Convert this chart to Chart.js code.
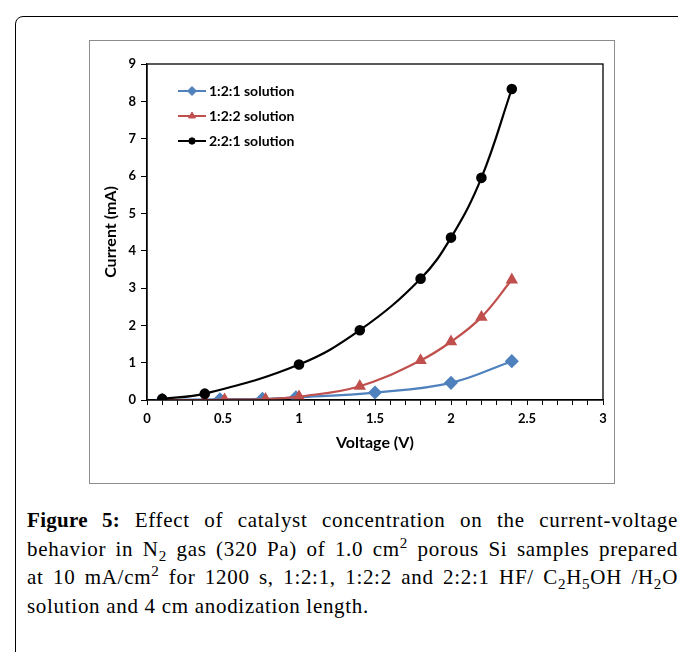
<!DOCTYPE html>
<html>
<head>
<meta charset="utf-8">
<script src="https://cdn.jsdelivr.net/npm/chart.js@4/dist/chart.umd.min.js"></script>
<style>
  html, body { margin: 0; padding: 0; background: #fff; }
  body { width: 678px; height: 652px; position: relative; overflow: hidden; }
  #outer { position: absolute; left: 15px; top: 16px; width: 720px; height: 720px;
           border: 1.5px solid #000; border-radius: 8px; }
  #box { position: absolute; left: 89px; top: 40px; width: 526px; height: 444px;
         border: 1px solid #8c8c8c; box-sizing: border-box; background: #fff; }
  #box canvas { position: absolute; left: 0; top: 0; }
  #caption { position: absolute; left: 27px; top: 506px; width: 651px;
             font-family: "Liberation Serif", "DejaVu Serif", serif; font-size: 21px;
             letter-spacing: 0.7px; color: #000; }
  #caption .ln { height: 28.5px; line-height: 28.5px; text-align: justify; text-align-last: justify; white-space: nowrap; }
  #caption .ln.last { text-align-last: left; }
  #caption b { font-weight: bold; letter-spacing: 0.3px; }
  sub, sup { font-size: 0.72em; line-height: 0; }
</style>
</head>
<body>
<div id="outer"></div>
<div id="box"><canvas id="c" width="526" height="444"></canvas></div>
<div id="caption">
  <div class="ln"><b>Figure 5:</b> Effect of catalyst concentration on the current-voltage</div>
  <div class="ln">behavior in N<sub>2</sub> gas (320 Pa) of 1.0 cm<sup>2</sup> porous Si samples prepared</div>
  <div class="ln">at 10 mA/cm<sup>2</sup> for 1200 s, 1:2:1, 1:2:2 and 2:2:1 HF/ C<sub>2</sub>H<sub>5</sub>OH /H<sub>2</sub>O</div>
  <div class="ln last">solution and 4 cm anodization length.</div>
</div>
<script>
// ---- data ----
const seriesNames = ["1:2:1 solution", "1:2:2 solution", "2:2:1 solution"];

const voltage121 = [0.1, 0.48, 0.76, 0.98, 1.5, 2.0, 2.4];
const current121 = [0.0, 0.02, 0.03, 0.07, 0.2, 0.46, 1.04];

const voltage122 = [0.1, 0.38, 0.51, 0.78, 1.0, 1.4, 1.8, 2.0, 2.2, 2.4];
const current122 = [0.0, 0.0, 0.01, 0.02, 0.09, 0.37, 1.06, 1.56, 2.22, 3.22];

const voltage221 = [0.1, 0.38, 1.0, 1.4, 1.8, 2.0, 2.2, 2.4];
const current221 = [0.03, 0.17, 0.95, 1.87, 3.25, 4.35, 5.95, 8.33];

const xMajorTicks = [0, 0.5, 1, 1.5, 2, 2.5, 3];
const xMinorStep = 0.1;
const yTicks = [0, 1, 2, 3, 4, 5, 6, 7, 8, 9];

const xTitle = "Voltage (V)";
const yTitle = "Current (mA)";

function pts(xs, ys) { return xs.map((x, i) => ({ x: x, y: ys[i] })); }

const FAM = "Lato, 'Open Sans', sans-serif";
const tickFont = { family: FAM, size: 13, weight: "bold" };
const titleFont = { family: FAM, size: 16, weight: "bold" };

const framePlugin = {
  id: 'frame',
  afterDatasetsDraw(chart) {
    const { ctx, chartArea: a } = chart;
    ctx.save();
    ctx.strokeStyle = '#000';
    ctx.lineWidth = 1.3;
    ctx.strokeRect(a.left, a.top, a.right - a.left, a.bottom - a.top);
    ctx.restore();
  }
};

const legendPlugin = {
  id: 'insideLegend',
  afterDraw(chart) {
    const { ctx, chartArea: a } = chart;
    const x0 = a.left + 31, lineLen = 28;
    const rows = [27, 52, 77];
    chart.data.datasets.forEach((ds, k) => {
      const y = a.top + rows[k];
      ctx.save();
      ctx.strokeStyle = ds.borderColor;
      ctx.lineWidth = 2;
      ctx.beginPath();
      ctx.moveTo(x0, y);
      ctx.lineTo(x0 + lineLen, y);
      ctx.stroke();
      ctx.fillStyle = ds.pointBackgroundColor;
      ctx.strokeStyle = ds.pointBorderColor;
      ctx.lineWidth = 1;
      Chart.helpers.drawPoint(ctx, {
        pointStyle: ds.pointStyle, radius: ds.pointRadius - 1, rotation: 0, borderWidth: 1
      }, x0 + lineLen / 2, y);
      ctx.fillStyle = '#000';
      ctx.font = "bold 14px " + FAM;
      ctx.textBaseline = 'middle';
      ctx.textAlign = 'left';
      ctx.fillText(ds.label, x0 + lineLen + 3, y + 0.5);
      ctx.restore();
    });
  }
};

function mkDs(label, xs, ys, color, style, radius, order) {
  return {
    label: label, data: pts(xs, ys),
    borderColor: color, backgroundColor: color,
    pointBackgroundColor: color, pointBorderColor: color,
    pointStyle: style, pointRadius: radius, pointHoverRadius: radius,
    borderWidth: 2.2, tension: 0.4, fill: false, order: order
  };
}

new Chart(document.getElementById('c'), {
  type: 'line',
  data: {
    datasets: [
      mkDs(seriesNames[0], voltage121, current121, '#4F81BD', 'rectRot', 5.5, 2),
      mkDs(seriesNames[1], voltage122, current122, '#C0504D', 'triangle', 5, 1),
      mkDs(seriesNames[2], voltage221, current221, '#000000', 'circle', 4.2, 0)
    ]
  },
  options: {
    responsive: false,
    devicePixelRatio: 1,
    animation: false,
    events: [],
    layout: { padding: { left: 7, right: 13, top: 23, bottom: 29 } },
    plugins: { legend: { display: false }, tooltip: { enabled: false } },
    scales: {
      x: {
        type: 'linear', min: xMajorTicks[0], max: xMajorTicks[xMajorTicks.length - 1],
        afterFit: s => { s.height = 56; },
        ticks: {
          stepSize: xMinorStep, maxTicksLimit: 100, autoSkip: false, maxRotation: 0,
          padding: 6, color: '#000', font: tickFont,
          callback: v => {
            const m = xMajorTicks.find(t => Math.abs(t - v) < 1e-6);
            return m === undefined ? '' : String(m);
          }
        },
        grid: { drawOnChartArea: false, tickLength: 5, color: '#000', tickWidth: 1 },
        border: { color: '#000', width: 1.3 },
        title: { display: true, text: xTitle, color: '#000', font: titleFont,
                 padding: { top: 0, bottom: 4 } }
      },
      y: {
        type: 'linear', min: yTicks[0], max: yTicks[yTicks.length - 1],
        afterFit: s => { s.width = 50; },
        afterBuildTicks: s => { s.ticks = yTicks.map(v => ({ value: v })); },
        ticks: { padding: 5, color: '#000', font: tickFont },
        grid: { drawOnChartArea: false, tickLength: 6, color: '#000', tickWidth: 1 },
        border: { color: '#000', width: 1.3 },
        title: { display: true, text: yTitle, color: '#000', font: titleFont,
                 padding: { top: 4, bottom: 0 } }
      }
    }
  },
  plugins: [framePlugin, legendPlugin]
});
</script>
</body>
</html>
